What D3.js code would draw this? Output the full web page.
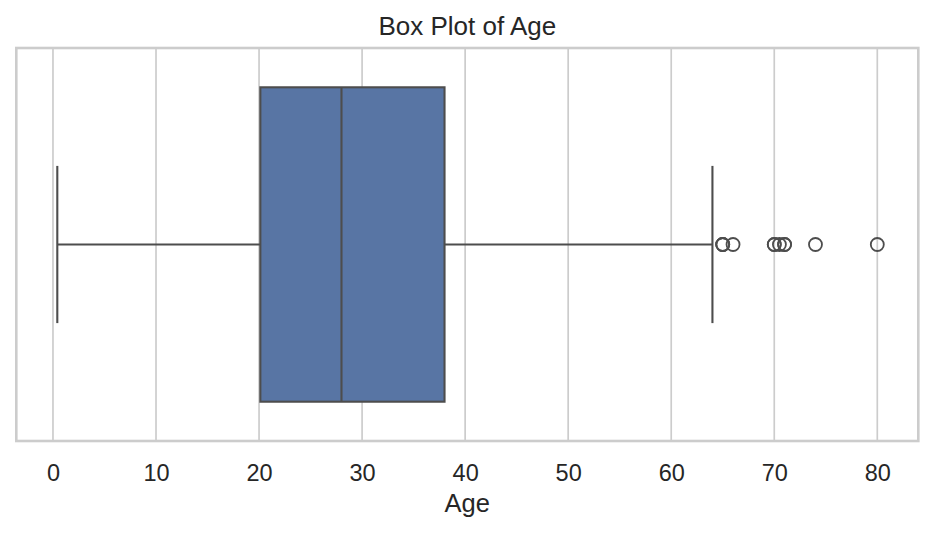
<!DOCTYPE html>
<html>
<head>
<meta charset="utf-8">
<script src="https://cdn.jsdelivr.net/npm/d3@7"></script>
<style>
  html, body { margin: 0; padding: 0; background: #fff; }
  svg { display: block; font-family: Arial, "Liberation Sans", sans-serif; }
</style>
</head>
<body>
<svg id="chart" width="934" height="534"></svg>
<script>
// ---- data (Titanic passenger age summary) ----
const whiskerLow = [0.42];
const whiskerHigh = [64];
const boxQuartiles = [20.125, 28, 38];
const outliers = [65, 65, 65, 66, 70, 70, 70.5, 71, 71, 74, 80];
const xTicks = [0, 10, 20, 30, 40, 50, 60, 70, 80];
const titleText = "Box Plot of Age";
const xLabel = "Age";

// ---- layout ----
const plot = { left: 16.3, right: 918.3, top: 48, bottom: 441 };
const ink = "#262626", edge = "#4d4d4d", gridC = "#cccccc", fill = "#5875a4";

const svg = d3.select("#chart");

const dataMin = whiskerLow[0], dataMax = d3.max(outliers);
const pad = (dataMax - dataMin) * 0.05;
const x = d3.scaleLinear().domain([dataMin - pad, dataMax + pad]).range([plot.left, plot.right]);
const y = d3.scaleLinear().domain([-0.5, 0.5]).range([plot.top, plot.bottom]);

// grid
svg.append("g").selectAll("line").data(xTicks).join("line")
  .attr("x1", d => x(d)).attr("x2", d => x(d))
  .attr("y1", plot.top).attr("y2", plot.bottom)
  .attr("stroke", gridC).attr("stroke-width", 1.7);

const g = svg.append("g");
const lw = 2.1;
// whiskers
g.append("line").attr("x1", x(whiskerLow[0])).attr("x2", x(boxQuartiles[0]))
  .attr("y1", y(0)).attr("y2", y(0)).attr("stroke", edge).attr("stroke-width", lw);
g.append("line").attr("x1", x(boxQuartiles[2])).attr("x2", x(whiskerHigh[0]))
  .attr("y1", y(0)).attr("y2", y(0)).attr("stroke", edge).attr("stroke-width", lw);
// caps
[whiskerLow[0], whiskerHigh[0]].forEach(v => {
  g.append("line").attr("x1", x(v)).attr("x2", x(v))
    .attr("y1", y(-0.2)).attr("y2", y(0.2)).attr("stroke", edge).attr("stroke-width", lw);
});
// box
g.append("rect")
  .attr("x", x(boxQuartiles[0])).attr("width", x(boxQuartiles[2]) - x(boxQuartiles[0]))
  .attr("y", y(-0.4)).attr("height", y(0.4) - y(-0.4))
  .attr("fill", fill).attr("stroke", edge).attr("stroke-width", lw);
// median
g.append("line").attr("x1", x(boxQuartiles[1])).attr("x2", x(boxQuartiles[1]))
  .attr("y1", y(-0.4)).attr("y2", y(0.4)).attr("stroke", edge).attr("stroke-width", lw);
// outliers
g.append("g").selectAll("circle").data(outliers).join("circle")
  .attr("cx", d => x(d)).attr("cy", y(0)).attr("r", 6.5)
  .attr("fill", "none").attr("stroke", edge).attr("stroke-width", 1.8);

// frame
svg.append("rect").attr("x", plot.left).attr("y", plot.top)
  .attr("width", plot.right - plot.left).attr("height", plot.bottom - plot.top)
  .attr("fill", "none").attr("stroke", gridC).attr("stroke-width", 2.6);

// x axis labels
const xAxis = d3.axisBottom(x).tickValues(xTicks).tickSize(0).tickPadding(22).tickFormat(d3.format("d"));
const ax = svg.append("g").attr("transform", `translate(0,${plot.bottom})`).call(xAxis);
ax.select(".domain").remove();
ax.selectAll("text").attr("font-size", 23.5).attr("fill", ink)
  .attr("font-family", "Arial, 'Liberation Sans', sans-serif").attr("dy", null)
  .attr("y", 40);

// axis label
svg.append("text").attr("x", (plot.left + plot.right) / 2).attr("y", 512)
  .attr("text-anchor", "middle").attr("font-size", 25.5).attr("fill", ink).text(xLabel);

// title
svg.append("text").attr("x", (plot.left + plot.right) / 2).attr("y", 34.5)
  .attr("text-anchor", "middle").attr("font-size", 26).attr("fill", ink).text(titleText);
</script>
</body>
</html>
